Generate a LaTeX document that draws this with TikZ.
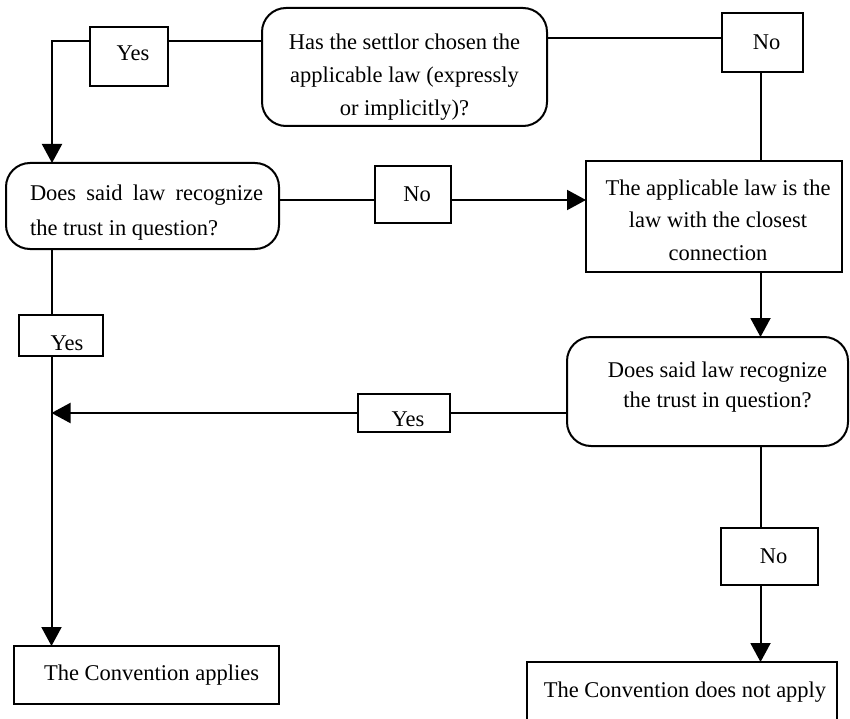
\documentclass[tikz,border=0pt]{standalone}
\usepackage{fontspec}
\setmainfont{Liberation Serif}
\usetikzlibrary{arrows.meta}
\newcommand\mvtext[3]{\raisebox{#2}[\height][\depth]{\kern#1\relax#3\kern-#1\relax}}
\begin{document}
\begin{tikzpicture}[x=1pt,y=-1pt,
  every node/.style={font=\fontsize{22.5}{34}\selectfont, inner sep=0pt, outer sep=0pt},
  box/.style={draw, line width=2pt, rectangle, align=center},
  qbox/.style={draw, line width=2pt, rectangle, rounded corners=24pt, align=center},
  link/.style={line width=2pt},
  arr/.style={line width=2pt, -{Triangle[width=20pt,length=19pt]}},
]
\useasboundingbox (0,0) rectangle (850,719);

% question nodes
\node[qbox, minimum width=285pt, minimum height=118pt] (q1) at (404.5,67)
  {\mvtext{0pt}{-9pt}{\fontsize{22.5}{33}\selectfont\begin{tabular}{@{}c@{}}Has the settlor chosen the\\ applicable law (expressly\\ or implicitly)?\end{tabular}}};
\node[qbox, minimum width=273pt, minimum height=86pt] (q2) at (142.5,206)
  {\mvtext{4pt}{-5pt}{\fontsize{22.5}{35}\selectfont\begin{tabular}{@{}l@{}}\makebox[233pt][s]{Does said law recognize}\\ the trust in question?\end{tabular}}};
\node[box, minimum width=256pt, minimum height=111pt] (ac) at (714,216.5)
  {\mvtext{4pt}{-5pt}{\fontsize{22.5}{32.5}\selectfont\begin{tabular}{@{}c@{}}The applicable law is the\\ law with the closest\\ connection\end{tabular}}};
\node[qbox, minimum width=281pt, minimum height=109pt] (q3) at (707.5,391.5)
  {\mvtext{10pt}{5pt}{\fontsize{22.5}{30}\selectfont\begin{tabular}{@{}c@{}}Does said law recognize\\ the trust in question?\end{tabular}}};

% answer labels
\node[box, minimum width=78pt, minimum height=59pt] (yes1) at (129,56.5) {\mvtext{4pt}{3pt}{Yes}};
\node[box, minimum width=81pt, minimum height=59pt] (no1) at (762.5,42.5) {\mvtext{4pt}{0pt}{No}};
\node[box, minimum width=76pt, minimum height=57pt] (no2) at (413,194.5) {\mvtext{4pt}{0pt}{No}};
\node[box, minimum width=84pt, minimum height=41pt] (yes2) at (61,335.5) {\mvtext{6pt}{-8pt}{Yes}};
\node[box, minimum width=92pt, minimum height=38pt] (yes3) at (404,413) {\mvtext{4pt}{-6pt}{Yes}};
\node[box, minimum width=97pt, minimum height=57pt] (no3) at (769.5,556.5) {\mvtext{4pt}{0pt}{No}};

% outcomes
\node[box, minimum width=265pt, minimum height=58pt] (bl) at (146.5,675) {\mvtext{5pt}{0pt}{The Convention applies}};
\node[box, minimum width=310pt, minimum height=60pt] (br) at (682,692) {\mvtext{3pt}{0pt}{The Convention does not apply}};

% turning points
\coordinate (tl) at (52,41);
\coordinate (xl) at (51.5,0);
\coordinate (xr) at (760.5,0);

% connectors
\draw[link] ([yshift=26pt]q1.west) -- ([yshift=26pt]q1.west -| yes1.east);
\draw[arr] ([yshift=26pt]q1.west -| yes1.west) -- (tl) -- (tl |- q2.north);
\draw[link] ([yshift=29pt]q1.east) -- ([yshift=29pt]q1.east -| no1.west);
\draw[link] (no1.south -| xr) -- (ac.north -| xr);
\draw[link] ([yshift=6pt]q2.east) -- ([yshift=6pt]q2.east -| no2.west);
\draw[arr] ([yshift=6pt]q2.east -| no2.east) -- ([yshift=6pt]q2.east -| ac.west);
\draw[arr] (ac.south -| xr) -- (q3.north -| xr);
\draw[link] ([yshift=-21.5pt]q3.west) -- ([yshift=-21.5pt]q3.west -| yes3.east);
\draw[arr] ([yshift=-21.5pt]q3.west -| yes3.west) -- ([yshift=-21.5pt]q3.west -| xl);
\draw[link] (q2.south -| xl) -- (yes2.north -| xl);
\draw[arr] (yes2.south -| xl) -- (bl.north -| xl);
\draw[link] (q3.south -| xr) -- (no3.north -| xr);
\draw[arr] (no3.south -| xr) -- (br.north -| xr);
\end{tikzpicture}
\end{document}
